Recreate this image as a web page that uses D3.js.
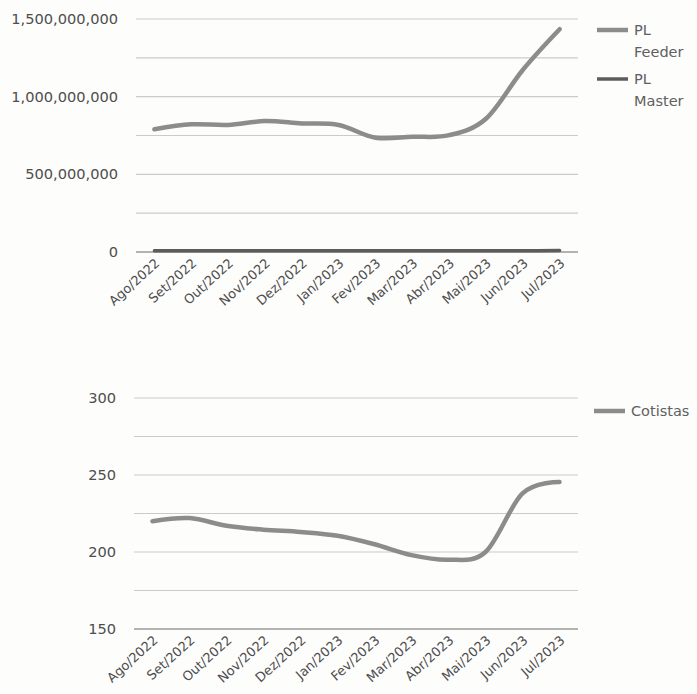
<!DOCTYPE html>
<html>
<head>
<meta charset="utf-8">
<script src="https://cdn.jsdelivr.net/npm/d3@7"></script>
<style>
  html,body{margin:0;padding:0;background:#fdfdfc;}
  svg{display:block;}
  .tick-label{font-family:"DejaVu Sans",Verdana,sans-serif;font-size:14.6px;fill:#4e4e4e;}
  .x-label{font-family:"DejaVu Sans",Verdana,sans-serif;font-size:13px;fill:#4e4e4e;}
  .legend-label{font-family:"DejaVu Sans",Verdana,sans-serif;font-size:14.5px;fill:#606060;}
</style>
</head>
<body>
<div id="chart"></div>
<script>
/* Month categories shared by both panels */
var months=["Ago/2022","Set/2022","Out/2022","Nov/2022","Dez/2022","Jan/2023",
            "Fev/2023","Mar/2023","Abr/2023","Mai/2023","Jun/2023","Jul/2023"];
/* Panel 1: net worth (PL) */
var plFeeder=[790e6,822e6,818e6,843e6,828e6,818e6,736e6,742e6,752e6,858e6,1172e6,1434e6];
var plMaster=[8e6,8.3e6,8.2e6,8.4e6,8.3e6,8.2e6,7.8e6,7.8e6,7.9e6,8.2e6,8.6e6,9e6];
var plTicks=[0,250e6,500e6,750e6,1000e6,1250e6,1500e6];
var plLabelTicks=[0,500e6,1000e6,1500e6];
/* Panel 2: number of shareholders */
var cotistas=[220,222,217,214.5,213,210.5,205,198,195,200,238,245.5];
var cotTicks=[150,175,200,225,250,275,300];
var cotLabelTicks=[150,200,250,300];

var W=697,H=694;
var svg=d3.select("#chart").append("svg").attr("width",W).attr("height",H);
var fmt=d3.format(",");

function panel(cfg){
    var x=d3.scalePoint().domain(months).range([cfg.x0,cfg.x1]).padding(0.5);
    var y=d3.scaleLinear().domain(cfg.domain).range([cfg.y0,cfg.y1]);
    var g=svg.append("g");

    // gridlines
    g.selectAll("line.grid").data(cfg.ticks).enter().append("line").attr("class","grid")
        .attr("x1",cfg.x0).attr("x2",cfg.x1)
        .attr("y1",function(d){return y(d);}).attr("y2",function(d){return y(d);})
        .attr("stroke",function(d){return d===cfg.domain[0]?"#9a9a9a":"#cbcbcb";})
        .attr("stroke-width",function(d){return d===cfg.domain[0]?1.6:1.2;});

    // y labels
    g.selectAll("text.tick-label").data(cfg.labelTicks).enter().append("text").attr("class","tick-label")
        .attr("x",cfg.x0-18).attr("y",function(d){return y(d);}).attr("dy","0.35em")
        .attr("text-anchor","end").text(function(d){return fmt(d);});

    // x labels
    g.selectAll("text.x-label").data(months).enter().append("text").attr("class","x-label")
        .attr("text-anchor","end")
        .attr("transform",function(d){return "translate("+(x(d)+3)+","+(cfg.y0+9)+") rotate(-42)";})
        .attr("dy","0.35em").text(function(d){return d;});

    var line=d3.line().x(function(d,i){return x(months[i]);}).y(function(d){return y(d);})
        .curve(d3.curveCardinal.tension(0));
    cfg.series.forEach(function(s){
        g.append("path").datum(s.values).attr("d",line).attr("fill","none")
            .attr("stroke",s.color).attr("stroke-width",s.width)
            .attr("stroke-linecap","round").attr("stroke-linejoin","round");
    });

    // legend
    cfg.series.forEach(function(s,i){
        var ly=cfg.legendY+i*cfg.legendStep;
        g.append("line").attr("x1",cfg.legendX).attr("x2",cfg.legendX+31)
            .attr("y1",ly).attr("y2",ly).attr("stroke",s.color).attr("stroke-width",s.width);
        var t=g.append("text").attr("class","legend-label").attr("x",cfg.legendX+37).attr("y",ly).attr("dy","0.35em");
        s.label.forEach(function(w,j){
            t.append("tspan").attr("x",cfg.legendX+37).attr("dy",j===0?"0.35em":"1.5em").text(w);
        });
    });
}

panel({x0:136,x1:578,y0:252,y1:19,domain:[0,1.5e9],ticks:plTicks,labelTicks:plLabelTicks,
    legendX:597,legendY:30,legendStep:49,
    series:[{label:["PL","Feeder"],values:plFeeder,color:"#8c8c8c",width:4.5},
            {label:["PL","Master"],values:plMaster,color:"#5c5c5c",width:3.5}]});

panel({x0:134,x1:578,y0:629,y1:398,domain:[150,300],ticks:cotTicks,labelTicks:cotLabelTicks,
    legendX:594,legendY:411,legendStep:0,
    series:[{label:["Cotistas"],values:cotistas,color:"#8c8c8c",width:4.5}]});
</script>
</body>
</html>
